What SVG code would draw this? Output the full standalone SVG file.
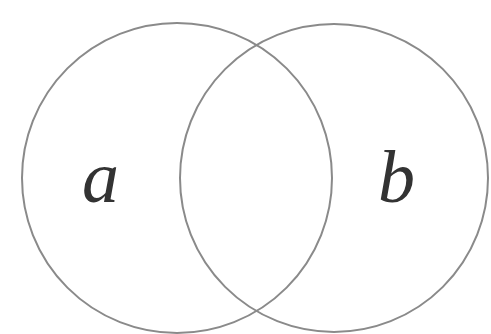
<svg xmlns="http://www.w3.org/2000/svg" width="491" height="334" viewBox="0 0 491 334">
<style>
.c{fill:none;stroke:#8a8a8a;stroke-width:2}
.t{font-family:"Liberation Serif","DejaVu Serif",serif;font-style:italic;font-size:74px;fill:#333}
</style>
<rect width="491" height="334" fill="#fff"/>
<g id="setA"><circle class="c" cx="177" cy="178" r="155"/><text class="t" x="82" y="202">a</text></g>
<g id="setB"><circle class="c" cx="334" cy="178" r="154"/><text class="t" x="378" y="202">b</text></g>
<g id="connectors"/>
</svg>
